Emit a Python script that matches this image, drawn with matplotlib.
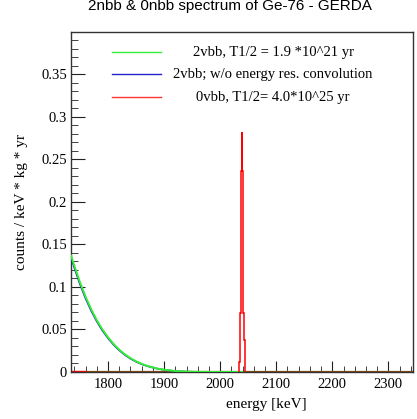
import matplotlib
matplotlib.use("Agg")
import matplotlib.pyplot as plt
import numpy as np
from matplotlib.ticker import MultipleLocator

# 2vbb spectrum near the endpoint
e_2v = [1734, 1740, 1750, 1760, 1770, 1780, 1790, 1800, 1810, 1820, 1830,
        1840, 1850, 1860, 1870, 1880, 1890, 1900, 1910, 1920, 1930, 1940,
        1960, 1980, 2000, 2039]
y_2v = [0.137, 0.125, 0.1055, 0.0885, 0.0738, 0.061, 0.050, 0.0408, 0.0329,
        0.0263, 0.0208, 0.0163, 0.0126, 0.0096, 0.0072, 0.0053, 0.0038,
        0.0027, 0.0019, 0.0012, 0.0008, 0.0005, 0.0002, 0.00005, 0.0, 0.0]
# without energy resolution convolution (slightly below the green one)
y_2v_raw = [0.135, 0.1225, 0.1032, 0.0865, 0.0720, 0.0595, 0.0487, 0.0397,
            0.0320, 0.0255, 0.0201, 0.0157, 0.0121, 0.0092, 0.0069, 0.0051,
            0.0036, 0.0026, 0.0018, 0.0011, 0.0007, 0.0004, 0.0001, 0.0,
            0.0, 0.0]

# 0vbb peak histogram, 1 keV bins
e_0v_edges = [2033.5, 2034.5, 2035.5, 2036.5, 2037.5, 2038.5, 2039.5,
              2040.5, 2041.5, 2042.5, 2043.5, 2044.5]
y_0v = [0.012, 0.038, 0.069, 0.151, 0.236, 0.282, 0.236, 0.151, 0.069,
        0.038, 0.012]

x_range = (1734, 2343)

legend_labels = ["2vbb, T1/2 = 1.9 *10^21 yr",
                 "2vbb; w/o energy res. convolution",
                 "0vbb, T1/2= 4.0*10^25 yr"]
legend_colors = ["#33ee33", "#2222cc", "#ff3333"]

fig = plt.figure(figsize=(4.17, 4.19), dpi=100)
ax = fig.add_axes([71 / 417, 1 - 372 / 419, 341.5 / 417, 340 / 419])

# zero line of the histograms over the whole range
ax.plot(x_range, [0, 0], color="#8b4a10", lw=1.6, zorder=2)
ax.plot([x_range[0], 1760], [0, 0], color="red", lw=1.6, zorder=2)

ax.plot(e_2v, y_2v_raw, color="#2222cc", lw=1.2, zorder=3)
ax.plot(e_2v, y_2v, color="#33ee33", lw=1.4, zorder=4)

edges = np.array(e_0v_edges)
vals = np.array(y_0v)
ax.stairs(vals, edges, color="red", lw=1.1, zorder=5, baseline=0)

ax.set_xlim(*x_range)
ax.set_ylim(0, 0.3999)

ax.xaxis.set_major_locator(MultipleLocator(100))
ax.xaxis.set_minor_locator(MultipleLocator(20))
ax.yaxis.set_major_locator(MultipleLocator(0.05))
ax.yaxis.set_minor_locator(MultipleLocator(0.01))
ax.tick_params(which="both", direction="in", top=False, right=False,
               labelsize=10.5, color="#222222")
ax.tick_params(axis="y", which="major", length=10, pad=3)
ax.tick_params(axis="y", which="minor", length=5)
ax.tick_params(axis="x", which="major", length=8, pad=4)
ax.tick_params(axis="x", which="minor", length=4)
ax.yaxis.set_major_formatter(plt.FuncFormatter(lambda v, p: f"{v:g}"))
for lab in ax.get_xticklabels() + ax.get_yticklabels():
    lab.set_family("Liberation Serif")
for s in ax.spines.values():
    s.set_color("#333333")
    s.set_linewidth(1.0)

ax.set_xlabel("energy [keV]", family="Liberation Serif", fontsize=11)
ax.xaxis.set_label_coords(0.572, -0.075)
ax.set_ylabel("counts / keV * kg * yr", family="Liberation Serif", fontsize=11)
ax.yaxis.set_label_coords(-0.125, 0.5)

fig.text(230 / 417, 1 - 6 / 419, "2nbb & 0nbb spectrum of Ge-76 - GERDA",
         ha="center", va="center", family="Liberation Sans", fontsize=11)

# legend drawn by hand, text centred as in ROOT
leg_y = [0.941, 0.876, 0.808]
for lab, col, yy in zip(legend_labels, legend_colors, leg_y):
    ax.plot([0.120, 0.264], [yy, yy], color=col, lw=1.0, transform=ax.transAxes)
    ax.text(0.592, yy, lab, ha="center", va="center", transform=ax.transAxes,
            family="Liberation Serif", fontsize=10.5)

fig.savefig("out.png", dpi=100)
